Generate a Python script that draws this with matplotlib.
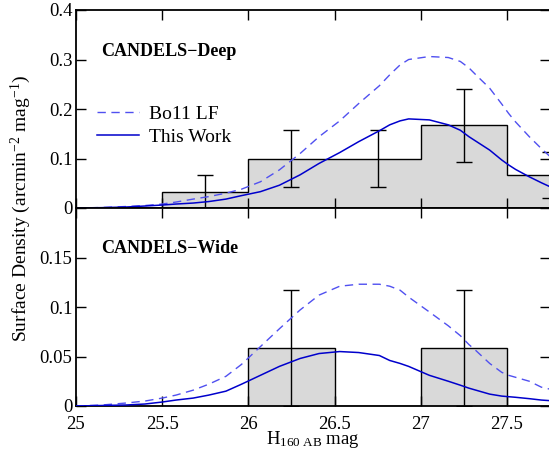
import matplotlib.pyplot as plt
import numpy as np

plt.rcParams['font.family'] = ['Liberation Serif', 'DejaVu Serif']
plt.rcParams['mathtext.fontset'] = 'custom'
plt.rcParams['mathtext.rm'] = 'Liberation Serif'
plt.rcParams['mathtext.it'] = 'Liberation Serif:italic'

# histogram bins (H160 mag)
bin_edges = [25.0, 25.5, 26.0, 26.5, 27.0, 27.5, 28.0]
deep_hist = [0.0, 0.033, 0.1, 0.1, 0.167, 0.067]
wide_hist = [0.0, 0.0, 0.059, 0.0, 0.059, 0.0]

# error bars
deep_err_x = [25.75, 26.25, 26.75, 27.25, 27.75]
deep_err_y = [0.033, 0.1, 0.1, 0.167, 0.067]
deep_err_lo = [0.033, 0.058, 0.058, 0.074, 0.047]
deep_err_hi = [0.034, 0.058, 0.058, 0.073, 0.046]
wide_err_x = [26.25, 27.25]
wide_err_y = [0.059, 0.059]
wide_err_lo = [0.059, 0.059]
wide_err_hi = [0.058, 0.058]

# model curves
mag = [25.0, 25.15, 25.29, 25.4, 25.5, 25.58, 25.68, 25.77, 25.87, 25.96, 26.07,
       26.18, 26.30, 26.41, 26.53, 26.64, 26.76, 26.82, 26.88, 26.93, 27.05, 27.16,
       27.23, 27.28, 27.32, 27.40, 27.47, 27.51, 27.55, 27.63, 27.70, 27.75, 28.0]
deep_bo11 = [0.0, 0.001, 0.003, 0.005, 0.008, 0.012, 0.018, 0.023, 0.030, 0.038, 0.053,
             0.077, 0.110, 0.144, 0.176, 0.211, 0.247, 0.269, 0.289, 0.300, 0.306, 0.304,
             0.296, 0.283, 0.269, 0.242, 0.210, 0.191, 0.174, 0.144, 0.120, 0.104, 0.05]
deep_this = [0.0, 0.0007, 0.002, 0.004, 0.006, 0.008, 0.010, 0.013, 0.018, 0.025, 0.033,
             0.046, 0.067, 0.090, 0.112, 0.134, 0.156, 0.168, 0.176, 0.180, 0.178, 0.168,
             0.157, 0.144, 0.135, 0.117, 0.097, 0.087, 0.078, 0.063, 0.051, 0.043, 0.015]
wide_bo11 = [0.0, 0.001, 0.003, 0.005, 0.008, 0.011, 0.016, 0.022, 0.030, 0.042, 0.060,
             0.078, 0.097, 0.112, 0.121, 0.123, 0.123, 0.121, 0.117, 0.110, 0.095, 0.081,
             0.071, 0.062, 0.056, 0.043, 0.034, 0.031, 0.029, 0.025, 0.019, 0.017, 0.008]
wide_this = [0.0, 0.0005, 0.001, 0.002, 0.004, 0.006, 0.008, 0.011, 0.015, 0.022, 0.031,
             0.040, 0.048, 0.053, 0.055, 0.054, 0.051, 0.046, 0.043, 0.040, 0.031, 0.025,
             0.021, 0.018, 0.016, 0.012, 0.010, 0.0094, 0.0088, 0.0074, 0.006, 0.0054, 0.003]

bo_color = '#5050f0'
this_color = '#0000cc'

fig = plt.figure(figsize=(5.49, 4.49), dpi=100)
left, width, h = 76 / 549, 474 / 549, 198 / 449
ax1 = fig.add_axes([left, (449 - 208) / 449, width, h])
ax2 = fig.add_axes([left, (449 - 406) / 449, width, h])


def panel(ax, hist, ex, ey, elo, ehi, bo, this, title, ty):
    ax.stairs(hist, bin_edges, fill=True, color='#d9d9d9', zorder=1)
    ax.stairs(hist, bin_edges, baseline=0, color='black', lw=1.0, zorder=2)
    ax.errorbar(ex, ey, yerr=[elo, ehi], fmt='none', ecolor='black',
                elinewidth=1.0, capsize=5.5, capthick=1.0, zorder=3)
    ax.plot(mag, bo, ls=(0, (6, 4)), color=bo_color, lw=1.0, label='Bo11 LF', zorder=4)
    ax.plot(mag, this, color=this_color, lw=1.1, label='This Work', zorder=4,
            solid_joinstyle='round')
    ax.text(0.053, ty, title, transform=ax.transAxes, fontsize=13,
            fontweight='bold', va='center', ha='left')
    ax.set_xlim(25, 27.75)
    ax.set_xticks([25, 25.5, 26, 26.5, 27, 27.5])
    ax.tick_params(direction='in', length=7, width=1.0, top=True, right=True,
                   labelsize=13.5, pad=2.5)
    for s in ax.spines.values():
        s.set_linewidth(1.3)


panel(ax1, deep_hist, deep_err_x, deep_err_y, deep_err_lo, deep_err_hi,
      deep_bo11, deep_this, 'CANDELS\u2212Deep', 0.79)
ax1.set_ylim(0, 0.4)
ax1.set_yticks([0, 0.1, 0.2, 0.3, 0.4])
ax1.set_yticklabels(['0', '0.1', '0.2', '0.3', '0.4'])
ax1.set_xticklabels([])
ax1.legend(loc='upper left', bbox_to_anchor=(0.045, 0.52), frameon=False,
           fontsize=14, handlelength=2.15, handletextpad=0.5, labelspacing=0.3,
           borderpad=0, borderaxespad=0)

panel(ax2, wide_hist, wide_err_x, wide_err_y, wide_err_lo, wide_err_hi,
      wide_bo11, wide_this, 'CANDELS\u2212Wide', 0.796)
ax2.set_ylim(0, 0.2)
ax2.set_yticks([0, 0.05, 0.1, 0.15, 0.2])
ax2.set_yticklabels(['0', '0.05', '0.1', '0.15', ''])
ax2.set_xticklabels(['25', '25.5', '26', '26.5', '27', '27.5'])
ax2.tick_params(axis='x', pad=7)
ax2.set_xlabel(r'H$_{\rm 160\ AB}$ mag', fontsize=13.5, labelpad=-3)

fig.text(21 / 549, 1 - 208 / 449, r'Surface Density (arcmin$^{-2}$ mag$^{-1}$)',
         rotation=90, ha='center', va='center', fontsize=14)

fig.savefig('out.png', dpi=100)
